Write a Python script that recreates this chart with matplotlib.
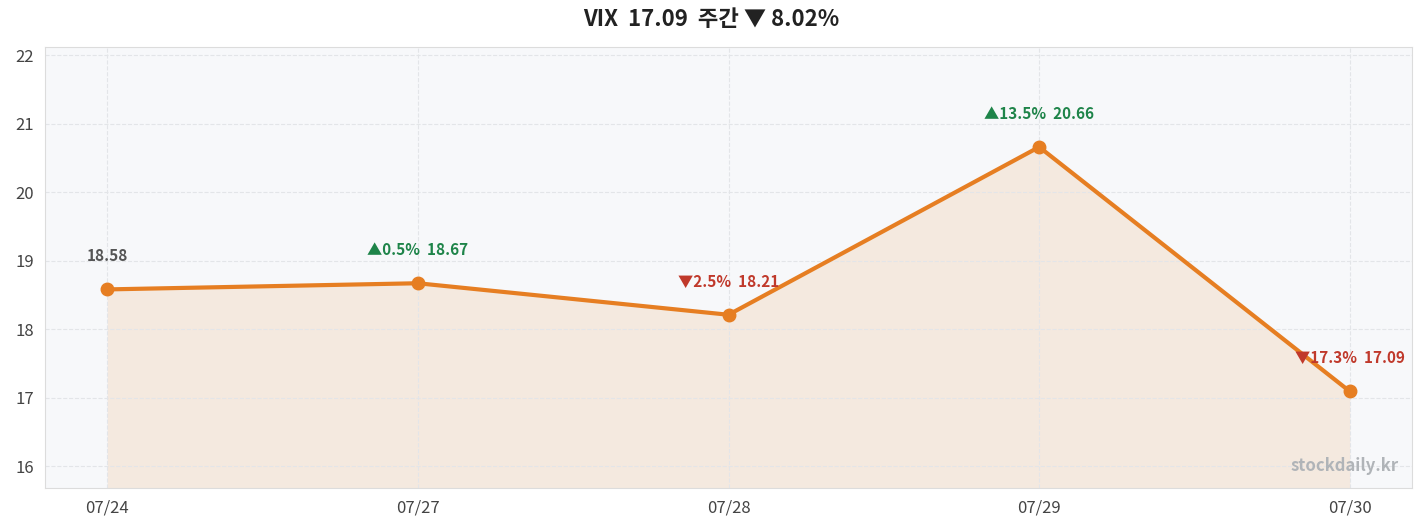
import matplotlib
matplotlib.use("Agg")
import matplotlib.pyplot as plt

plt.rcParams['font.family'] = ['Noto Sans CJK KR', 'DejaVu Sans']

dates = ['07/24', '07/27', '07/28', '07/29', '07/30']
values = [18.58, 18.67, 18.21, 20.66, 17.09]
changes = [None, 0.5, -2.5, 13.5, -17.3]
title = 'VIX  17.09  주간 ▼ 8.02%'

line_color = '#e67e22'
up_color = '#1e8449'
down_color = '#c0392b'

fig = plt.figure(figsize=(14.23, 5.29), dpi=100)
ax = fig.add_axes([45/1423, 1-488/529, (1412-45)/1423, (488-47)/529])
ax.set_facecolor('#f7f8fa')

x = list(range(len(values)))
ax.fill_between(x, values, 15.68, color=line_color, alpha=0.12, lw=0)
ax.plot(x, values, color=line_color, lw=3, marker='o', ms=9, zorder=3)

for i, (v, c) in enumerate(zip(values, changes)):
    if c is None:
        txt, col = f'{v:.2f}', '#555555'
    elif c >= 0:
        txt, col = f'▲{c:.1f}%  {v:.2f}', up_color
    else:
        txt, col = f'▼{abs(c):.1f}%  {v:.2f}', down_color
    ax.annotate(txt, (i, v), xytext=(0, 18), textcoords='offset points',
                ha='center', va='bottom', fontsize=11, color=col, fontweight='bold')

ax.set_xlim(-0.2, 4.2)
ax.set_ylim(15.68, 22.12)
ax.set_xticks(x)
ax.set_xticklabels(dates)
ax.set_yticks(range(16, 23))
ax.tick_params(labelsize=12, colors='#444444', length=0, pad=8)
ax.grid(True, ls='--', color='#e3e5e8', lw=0.8)
for s in ax.spines.values():
    s.set_color('#dcdcdc')

fig.suptitle(title, fontsize=16, fontweight='bold', color='#222222', y=0.985)
ax.text(0.99, 0.03, 'stockdaily.kr', transform=ax.transAxes, ha='right', va='bottom',
        fontsize=12, color='#b0b4b8', fontweight='bold')

fig.savefig('out.png', dpi=100)
